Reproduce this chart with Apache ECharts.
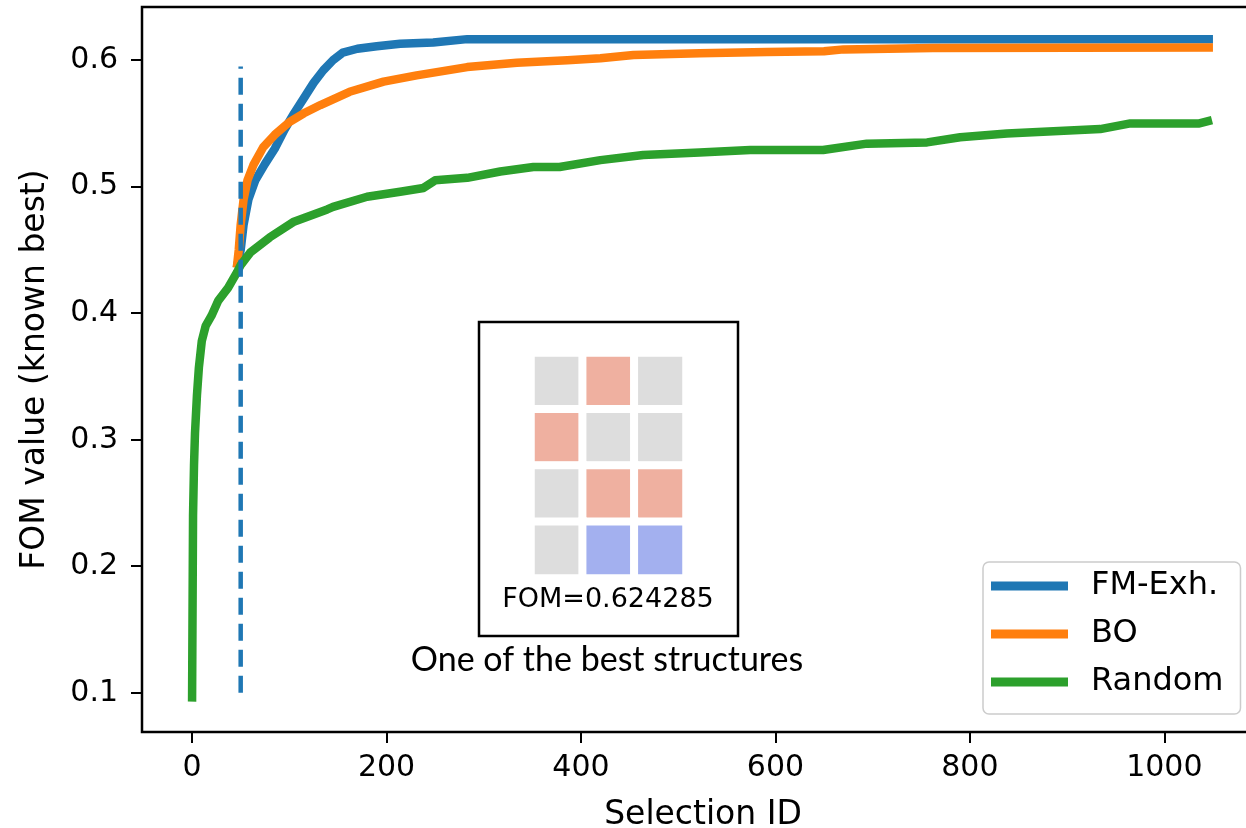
<!DOCTYPE html>
<html>
<head>
<meta charset="utf-8">
<script src="https://cdn.jsdelivr.net/npm/echarts@6/dist/echarts.min.js"></script>
<style>
html,body{margin:0;padding:0;background:#fff;}
#chart{width:1246px;height:828px;}
</style>
</head>
<body>
<div id="chart"></div>
<script>
// ---- data ----
const xTicks = [0, 200, 400, 600, 800, 1000];
const yTicks = [0.1, 0.2, 0.3, 0.4, 0.5, 0.6];

const fmExhIds    = [46, 50, 53, 58, 65, 75, 85, 95, 105, 115, 125, 135, 145, 155, 170, 190, 214, 248, 283, 1050];
const fmExhValues = [0.436, 0.45, 0.47, 0.49, 0.505, 0.518, 0.53, 0.545, 0.558, 0.57, 0.582, 0.592, 0.6, 0.606, 0.609, 0.611, 0.613, 0.614, 0.6166, 0.6166];

const boIds    = [46, 48, 50, 53, 57, 63, 73, 85, 100, 115, 132, 162, 197, 231, 283, 334, 386, 420, 454, 522, 591, 650, 670, 762, 1050];
const boValues = [0.436, 0.45, 0.47, 0.49, 0.505, 0.517, 0.531, 0.541, 0.551, 0.558, 0.5645, 0.575, 0.583, 0.588, 0.5945, 0.598, 0.6, 0.6015, 0.604, 0.6055, 0.6065, 0.607, 0.6085, 0.6095, 0.61];

const randomIds    = [0, 1, 2, 3, 5, 7, 10, 14, 20, 27, 37, 46, 50, 60, 80, 104, 139, 145, 180, 214, 238, 250, 283, 317, 351, 378, 420, 464, 522, 574, 649, 694, 756, 790, 838, 934, 965, 1036, 1049];
const randomValues = [0.093, 0.24, 0.28, 0.305, 0.335, 0.357, 0.378, 0.39, 0.398, 0.41, 0.42, 0.432, 0.438, 0.448, 0.46, 0.472, 0.482, 0.484, 0.492, 0.496, 0.499, 0.505, 0.507, 0.512, 0.5155, 0.5155, 0.521, 0.525, 0.527, 0.529, 0.529, 0.534, 0.535, 0.539, 0.542, 0.5455, 0.55, 0.55, 0.5526];

const initialX = [50, 50];
const initialY = [0.1, 0.595];

// best structure (rows top to bottom): 0 = empty, 1 = type A, 2 = type B
const structureRows = [
  [0, 1, 0],
  [1, 0, 0],
  [0, 1, 1],
  [0, 2, 2]
];
const structureLabel = 'FOM=0.624285';
const insetCaption = 'One of the best structures';

// ---- build ----
const zip = (xs, ys) => xs.map((x, i) => [x, ys[i]]);
const heatData = [];
structureRows.forEach((row, r) => row.forEach((v, c) => heatData.push([c, r, v])));

const FONT = 'DejaVu Sans';
const chart = echarts.init(document.getElementById('chart'), null, {renderer: 'canvas'});

const lineSeries = (name, data, color) => ({
  name, type: 'line', data, showSymbol: false, symbol: 'none',
  lineStyle: {color, width: 8.5, cap: 'butt', join: 'round'},
  itemStyle: {color},
  xAxisIndex: 0, yAxisIndex: 0, animation: false
});

chart.setOption({
  animation: false,
  backgroundColor: '#fff',
  grid: [
    {left: 142, top: 7, width: 1122, height: 725, show: true, borderColor: '#000', borderWidth: 2.5, backgroundColor: 'transparent', containLabel: false, outerBoundsMode: 'none'},
    {left: 531, top: 353, width: 155, height: 225, containLabel: false, outerBoundsMode: 'none'}
  ],
  xAxis: [
    {
      type: 'value', gridIndex: 0, min: -51.5, max: 1102.5,
      name: 'Selection ID', nameLocation: 'middle', nameGap: 67,
      nameTextStyle: {fontFamily: FONT, fontSize: 33, color: '#000'},
      axisLine: {show: false, onZero: false},
      axisTick: {show: true, length: 11, lineStyle: {color: '#000', width: 2}, customValues: xTicks},
      axisLabel: {fontFamily: FONT, fontSize: 30, color: '#000', margin: 21, customValues: xTicks, formatter: v => String(v)},
      splitLine: {show: false}
    },
    {type: 'category', gridIndex: 1, data: [0, 1, 2], show: false}
  ],
  yAxis: [
    {
      type: 'value', gridIndex: 0, min: 0.069, max: 0.642,
      name: 'FOM value (known best)', nameLocation: 'middle', nameGap: 90,
      nameTextStyle: {fontFamily: FONT, fontSize: 33, color: '#000'},
      axisLine: {show: false, onZero: false},
      axisTick: {show: true, length: 11, lineStyle: {color: '#000', width: 2}, customValues: yTicks},
      axisLabel: {fontFamily: FONT, fontSize: 30, color: '#000', margin: 24, customValues: yTicks, formatter: v => v.toFixed(1)},
      splitLine: {show: false}
    },
    {type: 'category', gridIndex: 1, data: [0, 1, 2, 3], inverse: true, show: false}
  ],
  visualMap: {
    type: 'piecewise', show: false, seriesIndex: 4, dimension: 2,
    pieces: [
      {value: 0, color: '#dddddd'},
      {value: 1, color: '#efb0a0'},
      {value: 2, color: '#a3b0ef'}
    ]
  },
  legend: {
    data: ['FM-Exh.', 'BO', 'Random'],
    orient: 'vertical', left: 983, top: 562,
    icon: 'rect', itemWidth: 77, itemHeight: 9, itemGap: 16,
    padding: [8, 17, 16, 8],
    backgroundColor: '#fff', borderColor: '#cccccc', borderWidth: 1.5, borderRadius: 6,
    textStyle: {fontFamily: FONT, fontSize: 32, color: '#000', lineHeight: 32, padding: [0, 0, 0, 18]}
  },
  graphic: [
    {type: 'rect', z: 1, shape: {x: 479, y: 322, width: 259, height: 314}, style: {fill: '#fff', stroke: '#000', lineWidth: 2.5}},
    {type: 'text', z: 10, x: 608, y: 600, style: {text: structureLabel, font: '27px "DejaVu Sans"', fill: '#000', textAlign: 'center', textVerticalAlign: 'middle'}},
    {type: 'text', z: 10, x: 607, y: 660, style: {text: insetCaption, font: '34px Lato', fill: '#000', textAlign: 'center', textVerticalAlign: 'middle'}}
  ],
  series: [
    lineSeries('FM-Exh.', zip(fmExhIds, fmExhValues), '#1f77b4'),
    lineSeries('BO', zip(boIds, boValues), '#ff7f0e'),
    lineSeries('Random', zip(randomIds, randomValues), '#2ca02c'),
    {
      name: 'initial', type: 'line', data: zip(initialX, initialY), showSymbol: false, symbol: 'none',
      lineStyle: {color: '#1f77b4', width: 4.5, type: [17, 9], cap: 'butt'}, z: 3
    },
    {
      name: 'structure', type: 'heatmap', xAxisIndex: 1, yAxisIndex: 1, data: heatData, z: 5,
      itemStyle: {borderColor: '#fff', borderWidth: 8},
      emphasis: {disabled: true}
    }
  ]
});
</script>
</body>
</html>
